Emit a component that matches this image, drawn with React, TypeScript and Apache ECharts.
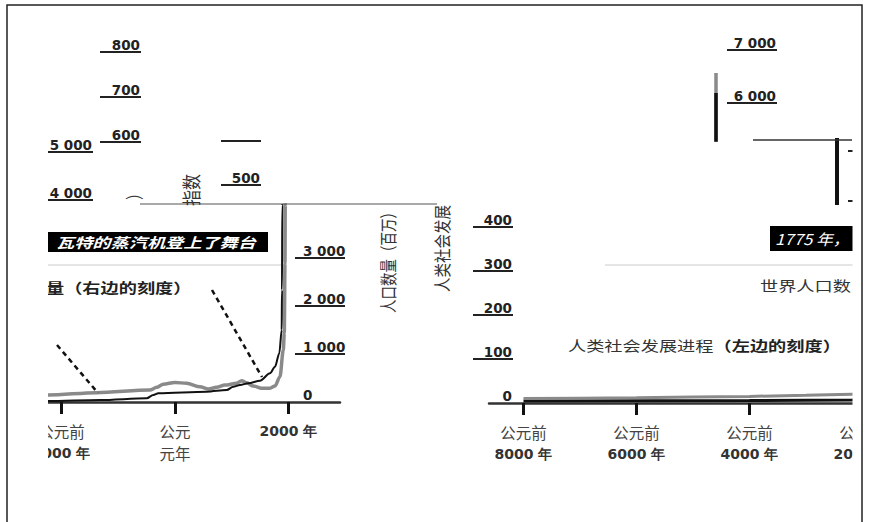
import React, { useEffect, useRef } from "react";
import * as echarts from "echarts";

// ---------- data ----------
// left piece: world population (millions, right scale) and social development index (left scale)
const leftPopYears = [-2731, -2233, -1322, -499, -382, -294, 559, 911, 1027, 1145, 1292, 1498, 1674, 1762, 1838, 1880, 1885, 1891, 1894];
const leftPopValues = [15, 21, 42, 77, 146, 181, 215, 250, 319, 354, 390, 444, 598, 735, 1015, 1500, 2333, 4104, 5250];
const leftIdxYears = [-2731, -2233, -1380, -441, -323, -206, 0, 206, 441, 587, 734, 881, 1087, 1175, 1263, 1380, 1527, 1674, 1762, 1850, 1908, 1926, 1938, 1943, 1946];
const leftIdxValues = [14, 15.7, 21, 27, 33, 40, 44, 42, 34, 29, 33, 38, 42, 48, 43, 36, 31, 31, 36, 57, 117, 155, 312, 443, 520];
// right piece
const rightIdxYears = [-8000, -7000, -6000, -5000, -4000, -3000, -2186, -1779];
const rightIdxValues = [10, 11, 12, 13.5, 15, 17.5, 20, 21];
const rightPopYears = [-8000, -6000, -4000, -2186, -1779];
const rightPopValues = [40, 45, 50, 62, 66];
// small fragments (vertical rises)
const fragDGrayValues = [5000, 6566];
const fragDBlackValues = [5000, 6189];
const fragEBlackValues = [3000, 6000];

// tick labels
const leftXTicks = [-2000, 0, 2000];
const rightXTicks = [-8000, -6000, -4000, -2000];
const leftPopTicks = [1000, 2000, 3000];
const leftPopLabels = [0, 1000, 2000, 3000];
const rightIdxTicks = [100, 200, 300, 400];
const rightIdxLabels = [0, 100, 200, 300, 400];
const fragATicks = [600, 700, 800];
const fragBTicks = [500, 600];
const fragBLabels = [500];
const fragCTicks = [4000, 5000];
const fragDTicks = [6000, 7000];
const fragETicks = [4000, 5000];

// texts
const wattText = "瓦特的蒸汽机登上了舞台";
const year1775Text = "1775 年，";
const popLegendPart = "量（右边的刻度）";
const worldPopText = "世界人口数";
const devMain = "人类社会发展进程";
const devScale = "（左边的刻度）";
const popAxisName = "人口数量（百万）";
const devAxisName = "人类社会发展";
const idxFragment = "指数";
const parenFragment = "）";

const CJK = '"Noto Sans CJK SC", "Noto Sans", sans-serif';
const NUM = '"DejaVu Sans", sans-serif';

const zip = (a: number[], b: number[]) => a.map((v, i) => [v, b[i]]);
const fmtNum = (v: number) => {
  if (v >= 1000) return Math.floor(v / 1000) + " " + String(v % 1000).padStart(3, "0");
  return String(v);
};
const yearLabel = (v: number) => {
  if (v < 0) return "{a|公元前}\n{b|" + -v + " 年}";
  if (v === 0) return "{a|公元}\n{a|元年}";
  return "{b|" + v + " 年}";
};

// geometry of the two main pieces
const L_X0 = 175; // px of year 0
const L_PPY = 113.5 / 2000;
const L_LEFT = 20, L_RIGHT = 340, L_TOP = 205, L_BOT = 402;
const R_X0 = 523.5; // px of year -8000
const R_PPY = 113 / 2000;
const R_LEFT = 489, R_RIGHT = 875, R_TOP = 205, R_BOT = 403;

const xLabelRich = {
  a: { fontFamily: CJK, fontSize: 15.5, color: "#444", lineHeight: 22.5 },
  b: { fontFamily: NUM, fontSize: 14, fontWeight: "bold", color: "#333", lineHeight: 22.5 },
};
const tickLabelStyle = { fontFamily: NUM, fontSize: 13.5, fontWeight: "bold", color: "#222", verticalAlign: "bottom" };

function mainX(gridIndex: number, min: number, max: number, ticks: number[]) {
  return {
    type: "value", gridIndex, min, max,
    axisLine: { show: true, onZero: false, lineStyle: { color: "#333", width: 2.5 } },
    axisTick: { show: true, length: 12, customValues: ticks, lineStyle: { color: "#111", width: 3 } },
    axisLabel: { show: true, customValues: ticks, margin: 17.5, formatter: yearLabel, rich: xLabelRich, color: "#444" },
    splitLine: { show: false },
  };
}
function hiddenX(gridIndex: number, max: number) {
  return { type: "value", gridIndex, min: 0, max, show: false, axisLine: { onZero: false } };
}
function fragY(gridIndex: number, min: number, max: number, ticks: number[], labels: number[] | null, offset: number, tickLen: number, margin: number) {
  return {
    type: "value", gridIndex, min, max, position: "left", offset,
    axisLine: { show: false, onZero: false },
    splitLine: { show: false },
    axisTick: { show: true, inside: true, length: tickLen, customValues: ticks, lineStyle: { color: "#222", width: 2 } },
    axisLabel: labels
      ? { show: true, inside: true, align: "right", margin, customValues: labels, formatter: fmtNum, ...tickLabelStyle }
      : { show: false },
  };
}

const option: any = {
  animation: false,
  backgroundColor: "#fff",
  grid: [
    { left: L_LEFT, top: L_TOP, width: L_RIGHT - L_LEFT, height: L_BOT - L_TOP, outerBoundsMode: "none" },
    { left: R_LEFT, top: R_TOP, width: R_RIGHT - R_LEFT, height: R_BOT - R_TOP, outerBoundsMode: "none" },
    { left: 100, top: 30, width: 45, height: 120, outerBoundsMode: "none" },
    { left: 221, top: 130, width: 45, height: 70, outerBoundsMode: "none" },
    { left: 48, top: 135, width: 46, height: 70, outerBoundsMode: "none" },
    { left: 700, top: 30, width: 110, height: 110, outerBoundsMode: "none" },
    { left: 830, top: 140, width: 40, height: 63, outerBoundsMode: "none" },
  ],
  xAxis: [
    mainX(0, (L_LEFT - L_X0) / L_PPY, (L_RIGHT - L_X0) / L_PPY, leftXTicks),
    mainX(1, -8000 + (R_LEFT - R_X0) / R_PPY, -8000 + (R_RIGHT - R_X0) / R_PPY, rightXTicks),
    hiddenX(2, 45),
    hiddenX(3, 45),
    hiddenX(4, 46),
    hiddenX(5, 110),
    hiddenX(6, 40),
  ],
  yAxis: [
    {
      type: "value", gridIndex: 0, position: "right", offset: -45, min: 0, max: (L_BOT - L_TOP) / 0.048,
      axisLine: { show: false, onZero: false }, splitLine: { show: false },
      axisTick: { show: true, length: 50, customValues: leftPopTicks, lineStyle: { color: "#222", width: 2 } },
      axisLabel: { show: true, margin: 8, align: "left", customValues: leftPopLabels, formatter: fmtNum, ...tickLabelStyle },
    },
    { type: "value", gridIndex: 0, min: 0, max: (L_BOT - L_TOP) / 0.445, show: false, axisLine: { onZero: false } },
    {
      type: "value", gridIndex: 1, position: "left", offset: 16, min: 0, max: (R_BOT - R_TOP) / 0.44,
      axisLine: { show: false, onZero: false }, splitLine: { show: false },
      axisTick: { show: true, inside: true, length: 40, customValues: rightIdxTicks, lineStyle: { color: "#222", width: 2 } },
      axisLabel: { show: true, inside: true, align: "right", margin: 39, customValues: rightIdxLabels, formatter: fmtNum, ...tickLabelStyle },
    },
    { type: "value", gridIndex: 1, min: 0, max: (R_BOT - R_TOP) / 0.048, show: false, axisLine: { onZero: false } },
    fragY(2, 600 - 8 / 0.45, 800 + 22 / 0.45, fragATicks, fragATicks, 0, 41, 40),
    fragY(3, 500 - 15 / 0.44, 500 + 55 / 0.44, fragBTicks, fragBLabels, 0, 40, 39),
    fragY(4, 4000 - 5 / 0.048, 4000 + 65 / 0.048, fragCTicks, fragCTicks, 0, 45, 44),
    fragY(5, 6000 - 37 / 0.053, 7000 + 20 / 0.053, fragDTicks, fragDTicks, -27, 50, 49),
    fragY(6, 4000 - 2 / 0.05, 5000 + 11 / 0.05, fragETicks, null, -18, 6, 0),
  ],
  series: [
    { type: "line", xAxisIndex: 0, yAxisIndex: 1, data: zip(leftIdxYears, leftIdxValues), symbol: "none", smooth: 0.3, smoothMonotone: "x", lineStyle: { color: "#8a8a8a", width: 3.5 } },
    { type: "line", xAxisIndex: 0, yAxisIndex: 0, data: zip(leftPopYears, leftPopValues), symbol: "none", smooth: 0.3, smoothMonotone: "x", lineStyle: { color: "#111", width: 2 } },
    { type: "line", xAxisIndex: 1, yAxisIndex: 3, data: zip(rightPopYears, rightPopValues), symbol: "none", lineStyle: { color: "#111", width: 3 } },
    { type: "line", xAxisIndex: 1, yAxisIndex: 2, data: zip(rightIdxYears, rightIdxValues), symbol: "none", lineStyle: { color: "#8a8a8a", width: 3 } },
    { type: "line", xAxisIndex: 5, yAxisIndex: 7, data: fragDGrayValues.map((v) => [16, v]), symbol: "none", lineStyle: { color: "#8a8a8a", width: 3.5 } },
    { type: "line", xAxisIndex: 5, yAxisIndex: 7, data: fragDBlackValues.map((v) => [16, v]), symbol: "none", lineStyle: { color: "#111", width: 3.5 } },
    { type: "line", xAxisIndex: 6, yAxisIndex: 8, data: fragEBlackValues.map((v) => [7, v]), symbol: "none", lineStyle: { color: "#111", width: 4 } },
  ],
  graphic: [
    // cut lines of the collage pieces
    { type: "line", z: 10, shape: { x1: 140, y1: 204, x2: 437, y2: 204 }, style: { stroke: "#555", lineWidth: 1.2 } },
    { type: "line", z: 10, shape: { x1: 753, y1: 140, x2: 852, y2: 140 }, style: { stroke: "#333", lineWidth: 1.5 } },
    { type: "line", z: 10, shape: { x1: 48, y1: 265, x2: 281, y2: 265 }, style: { stroke: "#ddd", lineWidth: 1.5 } },
    { type: "line", z: 10, shape: { x1: 605, y1: 265, x2: 860, y2: 265 }, style: { stroke: "#ddd", lineWidth: 1.5 } },
    // pointer lines
    { type: "line", z: 10, shape: { x1: 57, y1: 345, x2: 98, y2: 393 }, style: { stroke: "#111", lineWidth: 2.5, lineDash: [5, 4] } },
    { type: "line", z: 10, shape: { x1: 212, y1: 290, x2: 262, y2: 377 }, style: { stroke: "#111", lineWidth: 2.5, lineDash: [5, 4] } },
    // black boxes
    { type: "rect", z: 10, shape: { x: 48, y: 232, width: 220, height: 20 }, style: { fill: "#000" } },
    { type: "text", z: 11, x: 56, y: 242, scaleX: 1.3, style: { text: wattText, fill: "#fff", font: "italic bold 14px " + CJK, textVerticalAlign: "middle" } },
    { type: "rect", z: 10, shape: { x: 770, y: 226, width: 95, height: 25 }, style: { fill: "#000" } },
    { type: "text", z: 11, x: 775, y: 239, scaleX: 1.12, style: { text: year1775Text, fill: "#fff", font: "italic 15px " + CJK, textVerticalAlign: "middle" } },
    // legend-like captions
    { type: "text", z: 11, x: 46, y: 287, scaleX: 1.3, style: { text: popLegendPart, fill: "#222", font: "bold 14px " + CJK, textVerticalAlign: "middle" } },
    { type: "text", z: 11, x: 760, y: 285, scaleX: 1.3, style: { text: worldPopText, fill: "#333", font: "14px " + CJK, textVerticalAlign: "middle" } },
    {
      type: "text", z: 11, x: 568, y: 345, scaleX: 1.3,
      style: {
        text: "{a|" + devMain + "}{b|" + devScale + "}", textVerticalAlign: "middle",
        rich: { a: { fontFamily: CJK, fontSize: 14, fill: "#333" }, b: { fontFamily: CJK, fontSize: 14, fontWeight: "bold", fill: "#222" } },
      },
    },
    // vertical axis names / fragments
    { type: "text", z: 11, x: 388, y: 313, rotation: Math.PI / 2, scaleY: 1.3, style: { text: popAxisName, fill: "#333", font: "13.5px " + CJK, textAlign: "left", textVerticalAlign: "middle" } },
    { type: "text", z: 11, x: 441, y: 292, rotation: Math.PI / 2, scaleY: 1.2, style: { text: devAxisName, fill: "#333", font: "14.5px " + CJK, textAlign: "left", textVerticalAlign: "middle" } },
    { type: "text", z: 11, x: 191, y: 206, rotation: Math.PI / 2, scaleY: 1.2, style: { text: idxFragment, fill: "#333", font: "16px " + CJK, textAlign: "left", textVerticalAlign: "middle" } },
    { type: "text", z: 11, x: 133, y: 200, rotation: Math.PI / 2, scaleY: 1.3, style: { text: parenFragment, fill: "#333", font: "14px " + CJK, textAlign: "left", textVerticalAlign: "middle" } },
    // masks where the pieces were cut
    { type: "rect", z: 50, shape: { x: 8.5, y: 205, width: 39.5, height: 265 }, style: { fill: "#fff" } },
    { type: "rect", z: 50, shape: { x: 852.5, y: 140, width: 17, height: 330 }, style: { fill: "#fff" } },
    // frame
    { type: "polyline", z: 60, shape: { points: [[7, 522], [7, 5], [862, 5], [862, 522]] }, style: { stroke: "#222", lineWidth: 1.5, fill: null } },
  ],
};

export default function App() {
  const ref = useRef<HTMLDivElement>(null);
  useEffect(() => {
    if (!ref.current) return;
    const chart = echarts.init(ref.current, null, { renderer: "svg" });
    chart.setOption(option);
    return () => chart.dispose();
  }, []);
  return <div ref={ref} style={{ position: "absolute", left: 0, top: 0, width: 869, height: 522 }} />;
}
